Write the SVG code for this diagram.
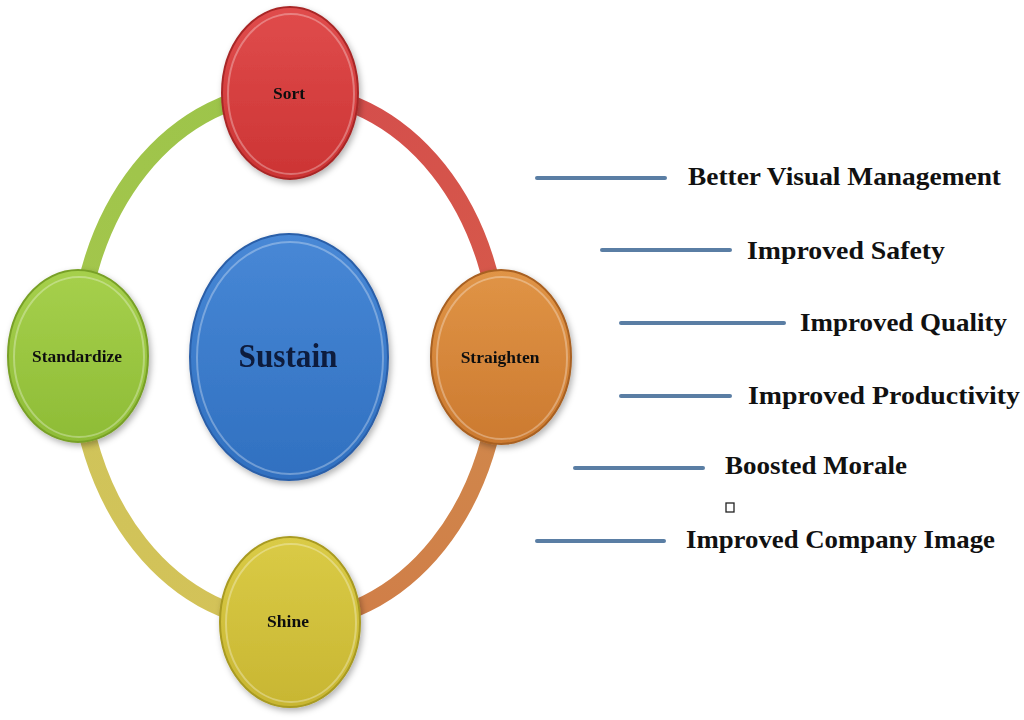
<svg xmlns="http://www.w3.org/2000/svg" width="1024" height="720" viewBox="0 0 1024 720">
<defs>
<style>
.lbl{font-family:"Liberation Serif","Times New Roman",serif;font-weight:bold;fill:#111;text-anchor:middle;font-size:17.5px}
.item{font-family:"Liberation Serif","Times New Roman",serif;font-weight:bold;font-size:25px;fill:#111}
.bar{stroke:#5a7ea4;stroke-width:4;stroke-linecap:round}
.arc{fill:none;stroke-width:17}
.rim{fill:none;stroke:#ffffff;stroke-opacity:0.3;stroke-width:2}
</style>
<filter id="sh" x="-20%" y="-20%" width="140%" height="140%">
<feDropShadow dx="2" dy="3" stdDeviation="3" flood-color="#000" flood-opacity="0.3"/>
</filter>
<linearGradient id="gRed" x1="0" y1="0" x2="0" y2="1"><stop offset="0" stop-color="#e04c4c"/><stop offset="1" stop-color="#cc3434"/></linearGradient>
<linearGradient id="gOrg" x1="0" y1="0" x2="0" y2="1"><stop offset="0" stop-color="#e09446"/><stop offset="1" stop-color="#cc7a30"/></linearGradient>
<linearGradient id="gGrn" x1="0" y1="0" x2="0" y2="1"><stop offset="0" stop-color="#a6d04c"/><stop offset="1" stop-color="#8ebc36"/></linearGradient>
<linearGradient id="gYel" x1="0" y1="0" x2="0" y2="1"><stop offset="0" stop-color="#dacb46"/><stop offset="1" stop-color="#c8b632"/></linearGradient>
<linearGradient id="gBlu" x1="0" y1="0" x2="0" y2="1"><stop offset="0" stop-color="#4888d6"/><stop offset="1" stop-color="#3070c0"/></linearGradient>
<linearGradient id="aTR" x1="0" y1="0" x2="1" y2="1"><stop offset="0" stop-color="#d44c4c"/><stop offset="1" stop-color="#d65a4a"/></linearGradient>
<linearGradient id="aBR" x1="0" y1="0" x2="0" y2="1"><stop offset="0" stop-color="#d08a4c"/><stop offset="1" stop-color="#d07e48"/></linearGradient>
<linearGradient id="aBL" x1="0" y1="0" x2="1" y2="1"><stop offset="0" stop-color="#cfc45a"/><stop offset="1" stop-color="#d4c258"/></linearGradient>
<linearGradient id="aTL" x1="0" y1="1" x2="1" y2="0"><stop offset="0" stop-color="#a4c64c"/><stop offset="1" stop-color="#9cc44a"/></linearGradient>
</defs>
<rect width="1024" height="720" fill="#ffffff"/>
<g id="connectors">
<path class="arc" stroke="url(#aTR)" d="M289,92 A211,265 0 0,1 500,357"/>
<path class="arc" stroke="url(#aBR)" d="M500,357 A211,265 0 0,1 289,622"/>
<path class="arc" stroke="url(#aBL)" d="M289,622 A211,265 0 0,1 78,357"/>
<path class="arc" stroke="url(#aTL)" d="M78,357 A211,265 0 0,1 289,92"/>
</g>
<g id="sort" filter="url(#sh)">
<ellipse cx="290" cy="93" rx="68" ry="86" fill="url(#gRed)" stroke="#a82828" stroke-width="2"/>
<ellipse class="rim" cx="291" cy="94" rx="63" ry="80"/>
<text class="lbl" x="289" y="99">Sort</text>
</g>
<g id="straighten" filter="url(#sh)">
<ellipse cx="501" cy="357" rx="70" ry="87" fill="url(#gOrg)" stroke="#a86020" stroke-width="2"/>
<ellipse class="rim" cx="502" cy="358" rx="65" ry="81"/>
<text class="lbl" x="500" y="363">Straighten</text>
</g>
<g id="standardize" filter="url(#sh)">
<ellipse cx="78" cy="356" rx="70" ry="86" fill="url(#gGrn)" stroke="#78a028" stroke-width="2"/>
<ellipse class="rim" cx="79" cy="357" rx="65" ry="80"/>
<text class="lbl" x="77" y="362" textLength="90" lengthAdjust="spacingAndGlyphs">Standardize</text>
</g>
<g id="shine" filter="url(#sh)">
<ellipse cx="290" cy="622" rx="70" ry="85" fill="url(#gYel)" stroke="#a89a20" stroke-width="2"/>
<ellipse class="rim" cx="291" cy="623" rx="65" ry="79"/>
<text class="lbl" x="288" y="627">Shine</text>
</g>
<g id="sustain" filter="url(#sh)">
<ellipse cx="289" cy="357" rx="99" ry="123" fill="url(#gBlu)" stroke="#2a5ea8" stroke-width="2"/>
<ellipse class="rim" cx="290" cy="358" rx="93" ry="116"/>
<text class="lbl" x="288" y="367" style="font-size:34px;fill:#0e1a3c" textLength="99" lengthAdjust="spacingAndGlyphs">Sustain</text>
</g>
<g id="benefits">
<line class="bar" x1="537" y1="178" x2="665" y2="178"/>
<text class="item" x="688" y="185" textLength="313" lengthAdjust="spacingAndGlyphs">Better Visual Management</text>
<line class="bar" x1="602" y1="250" x2="730" y2="250"/>
<text class="item" x="747" y="259" textLength="198" lengthAdjust="spacingAndGlyphs">Improved Safety</text>
<line class="bar" x1="621" y1="323" x2="784" y2="323"/>
<text class="item" x="800" y="331" textLength="207" lengthAdjust="spacingAndGlyphs">Improved Quality</text>
<line class="bar" x1="621" y1="396" x2="730" y2="396"/>
<text class="item" x="748" y="404" textLength="272" lengthAdjust="spacingAndGlyphs">Improved Productivity</text>
<line class="bar" x1="575" y1="468" x2="703" y2="468"/>
<text class="item" x="725" y="474" textLength="182" lengthAdjust="spacingAndGlyphs">Boosted Morale</text>
<rect x="726" y="503" width="8" height="9" fill="none" stroke="#222" stroke-width="1.3"/>
<line class="bar" x1="537" y1="541" x2="664" y2="541"/>
<text class="item" x="686" y="548" textLength="309" lengthAdjust="spacingAndGlyphs">Improved Company Image</text>
</g>
</svg>
